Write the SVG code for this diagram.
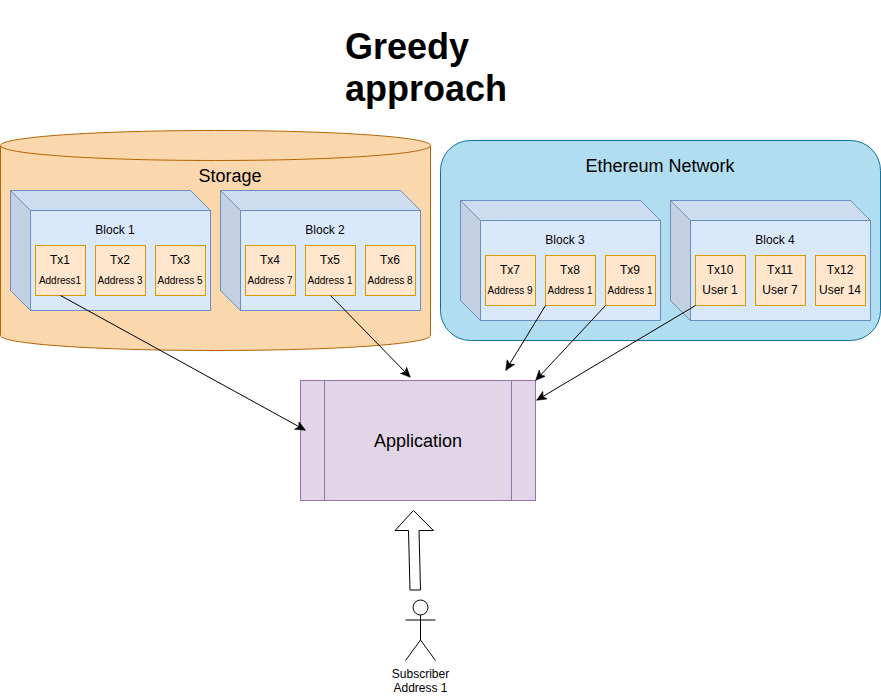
<svg xmlns="http://www.w3.org/2000/svg" width="881" height="696" viewBox="0 0 881 696">
<style>
text{font-family:"Liberation Sans",Arial,sans-serif;fill:#000;text-anchor:middle}
.title{font-size:36px;font-weight:bold;text-anchor:start}
.big{font-size:18px}
.m{font-size:12px}
.s{font-size:10px}
.cube{fill:#dae8fc;stroke:#6c8ebf}
.top{fill:#000;fill-opacity:.05;stroke:#6c8ebf}
.side{fill:#000;fill-opacity:.1;stroke:#6c8ebf}
.tx{fill:#ffe6cc;stroke:#d79b00}
.conn{fill:none;stroke:#000;marker-end:url(#arrow)}
.ln{fill:none;stroke:#000}
</style>
<defs>
<marker id="arrow" markerUnits="userSpaceOnUse" markerWidth="11" markerHeight="10" refX="9.5" refY="4.5" orient="auto">
<path d="M0 0L10 4.5L0 9L2.5 4.5Z" fill="#000" stroke="#000" stroke-width="0.5"/>
</marker>
<g id="blk">
<path class="cube" d="M0 0H180L200 20V120H20L0 100Z"/>
<path class="side" d="M0 0L20 20V120L0 100Z"/>
<path class="top" d="M0 0H180L200 20H20Z"/>
<path fill="none" stroke="#6c8ebf" d="M0 0H180L200 20V120H20L0 100Z"/>
</g>
</defs>
<text class="title" x="345" y="59">Greedy</text>
<text class="title" x="345" y="101">approach</text>
<g id="storage">
<path d="M0.5 145.5C0.5 137 96.500 130.500 215.500 130.500S430.500 137 430.500 145.500V335.500C430.500 344 334.500 350.500 215.500 350.500S0.500 344 0.500 335.500Z" fill="#fad7ac" stroke="#b46504"/>
<path d="M0.5 145.5C0.5 154 96.500 160.500 215.500 160.500S430.500 154 430.500 145.500" fill="none" stroke="#b46504"/>
<text class="big" x="230" y="182">Storage</text>
</g>
<g id="ethereum-network">
<rect x="440.500" y="140.500" width="440" height="200" rx="30" ry="30" fill="#b1ddf0" stroke="#10739e"/>
<text class="big" x="660" y="172">Ethereum Network</text>
</g>
<g id="block1">
<use href="#blk" x="10.500" y="190.500"/>
<text class="m" x="115" y="234">Block 1</text>
</g>
<g id="block2">
<use href="#blk" x="220.500" y="190.500"/>
<text class="m" x="325" y="234">Block 2</text>
</g>
<g id="block3">
<use href="#blk" x="460.500" y="200.500"/>
<text class="m" x="565" y="244">Block 3</text>
</g>
<g id="block4">
<use href="#blk" x="670.500" y="200.500"/>
<text class="m" x="775" y="244">Block 4</text>
</g>
<g id="tx1"><rect class="tx" x="35.500" y="245.500" width="50" height="50"/><text class="m" x="60" y="264">Tx1</text><text class="s" x="60" y="284">Address1</text></g>
<g id="tx2"><rect class="tx" x="95.500" y="245.500" width="50" height="50"/><text class="m" x="120" y="264">Tx2</text><text class="s" x="120" y="284">Address 3</text></g>
<g id="tx3"><rect class="tx" x="155.500" y="245.500" width="50" height="50"/><text class="m" x="180" y="264">Tx3</text><text class="s" x="180" y="284">Address 5</text></g>
<g id="tx4"><rect class="tx" x="245.500" y="245.500" width="50" height="50"/><text class="m" x="270" y="264">Tx4</text><text class="s" x="270" y="284">Address 7</text></g>
<g id="tx5"><rect class="tx" x="305.500" y="245.500" width="50" height="50"/><text class="m" x="330" y="264">Tx5</text><text class="s" x="330" y="284">Address 1</text></g>
<g id="tx6"><rect class="tx" x="365.500" y="245.500" width="50" height="50"/><text class="m" x="390" y="264">Tx6</text><text class="s" x="390" y="284">Address 8</text></g>
<g id="tx7"><rect class="tx" x="485.500" y="255.500" width="50" height="50"/><text class="m" x="510" y="274">Tx7</text><text class="s" x="510" y="294">Address 9</text></g>
<g id="tx8"><rect class="tx" x="545.500" y="255.500" width="50" height="50"/><text class="m" x="570" y="274">Tx8</text><text class="s" x="570" y="294">Address 1</text></g>
<g id="tx9"><rect class="tx" x="605.500" y="255.500" width="50" height="50"/><text class="m" x="630" y="274">Tx9</text><text class="s" x="630" y="294">Address 1</text></g>
<g id="tx10"><rect class="tx" x="695.500" y="255.500" width="50" height="50"/><text class="m" x="720" y="274">Tx10</text><text class="m" x="720" y="294">User 1</text></g>
<g id="tx11"><rect class="tx" x="755.500" y="255.500" width="50" height="50"/><text class="m" x="780" y="274">Tx11</text><text class="m" x="780" y="294">User 7</text></g>
<g id="tx12"><rect class="tx" x="815.500" y="255.500" width="50" height="50"/><text class="m" x="840" y="274">Tx12</text><text class="m" x="840" y="294">User 14</text></g>
<g id="application">
<rect x="300.500" y="380.500" width="235" height="120" fill="#e1d5e7" stroke="#9673a6"/>
<path d="M324.500 380.500V500.500M511.500 380.500V500.500" fill="none" stroke="#9673a6"/>
<text class="big" x="418" y="447">Application</text>
</g>
<g id="connectors">
<path class="conn" d="M60.500 295.500L305 430"/>
<path class="conn" d="M330.500 295.500L410 377"/>
<path class="conn" d="M545.500 305.500L506 370"/>
<path class="conn" d="M605.500 305.500L536 380"/>
<path class="conn" d="M695.500 305.500L537 400"/>
<path id="block-arrow" d="M413.500 510.500L433.500 530.500H419L420.500 590H410L408.500 530.500H395Z" fill="#fff" stroke="#000"/>
</g>
<g id="subscriber">
<circle class="ln" cx="420.500" cy="607.500" r="7.500"/>
<path class="ln" d="M420.500 615V640M405.500 620H435.500M405.500 660.500L420.500 640L435.500 660.500"/>
<text class="m" x="420.500" y="678">Subscriber</text>
<text class="m" x="420.500" y="692">Address 1</text>
</g>
</svg>
